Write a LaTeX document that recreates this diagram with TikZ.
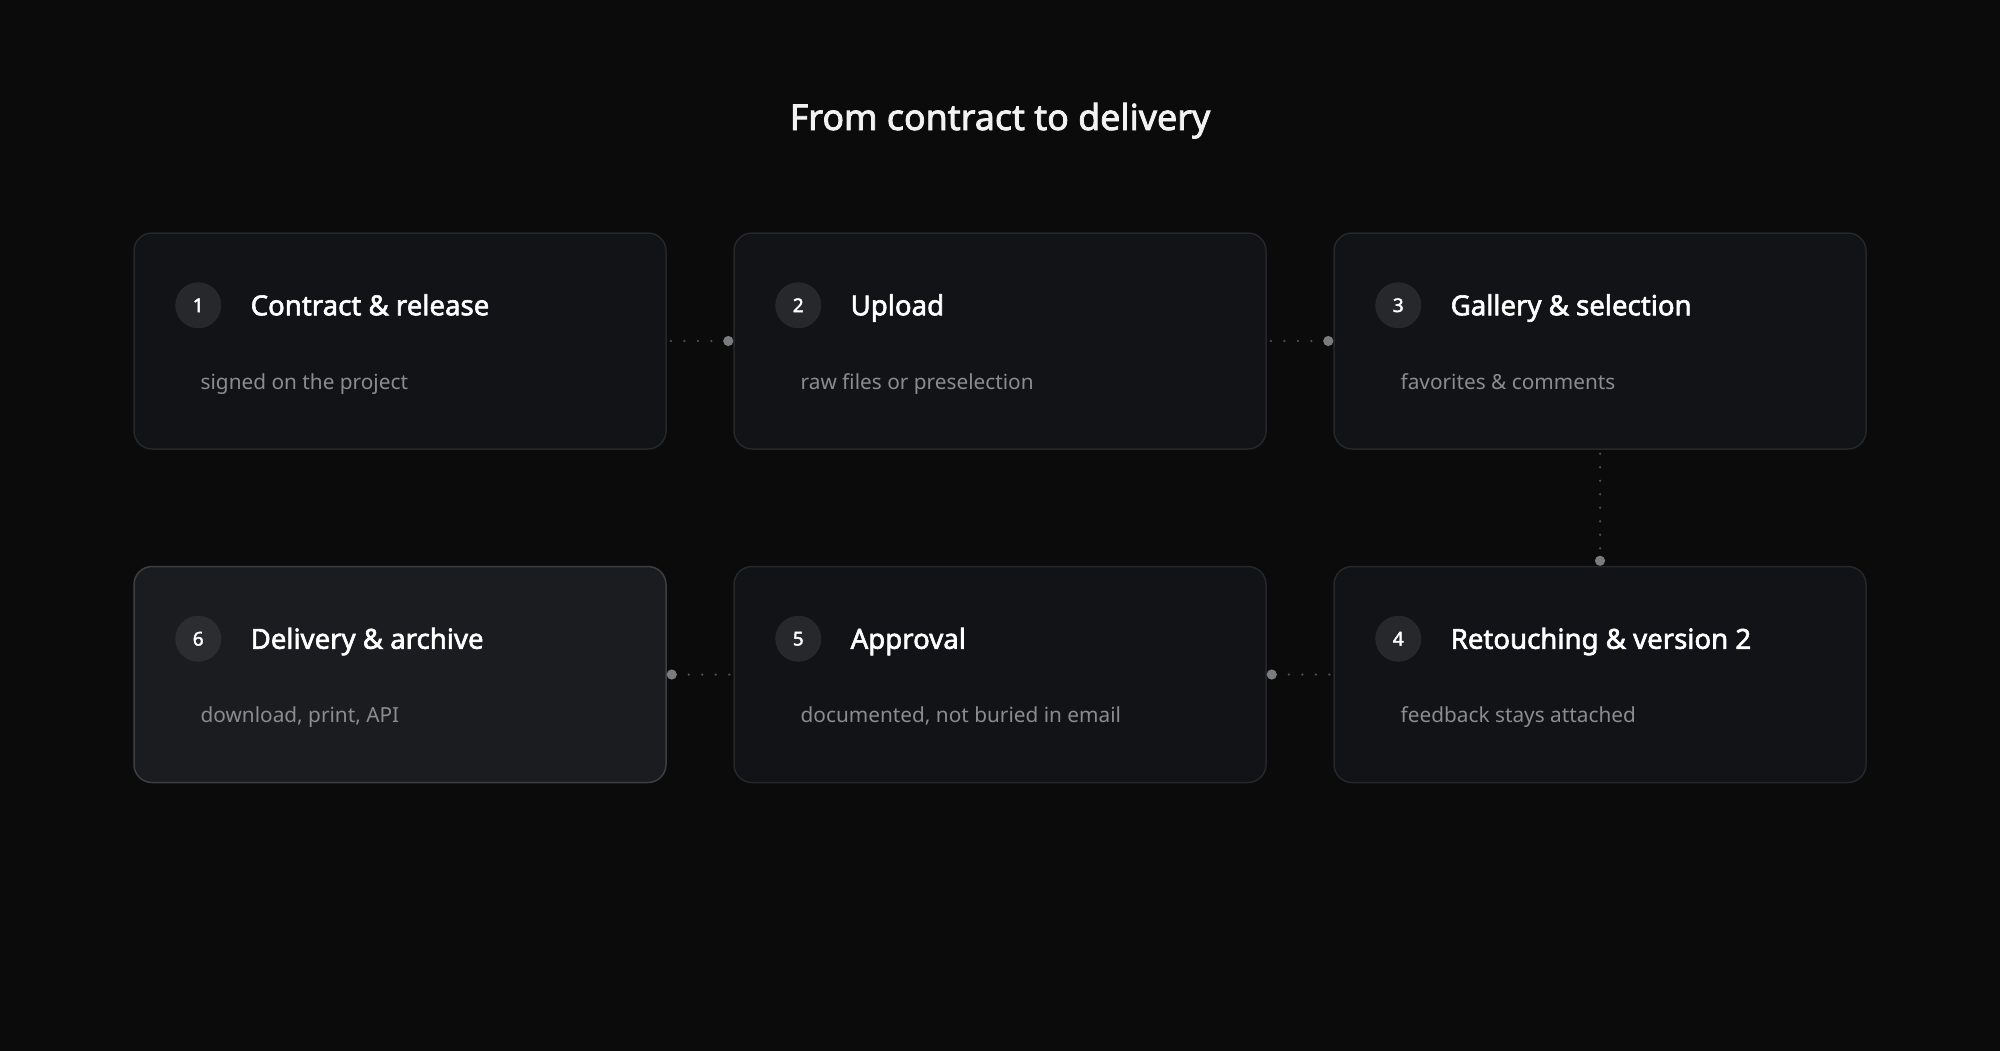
\documentclass[tikz,border=0pt]{standalone}
\usepackage{fontspec}
\setmainfont{Noto Sans}[AutoFakeBold=2.2]
\usetikzlibrary{arrows.meta,calc,positioning}
\definecolor{bgdark}{HTML}{0B0B0C}
\definecolor{cardfill}{HTML}{121317}
\definecolor{cardline}{HTML}{26272B}
\definecolor{hifill}{HTML}{1B1C20}
\definecolor{hiline}{HTML}{3D3E42}
\definecolor{badgefill}{HTML}{27282C}
\definecolor{hibadge}{HTML}{2C2D31}
\definecolor{capgray}{HTML}{8B8C91}
\definecolor{dotgray}{HTML}{505155}
\definecolor{dotend}{HTML}{7A7B7F}
\tikzset{
        card/.style = {draw=cardline, fill=cardfill, rounded corners=9pt,
            line width=0.75pt, inner sep=0pt,
            minimum width=266pt,
            minimum height=108pt},
        lastcard/.style = {card, draw=hiline, fill=hifill},
        badge/.style = {circle, fill=badgefill, minimum size=23pt, inner sep=0pt,
            text=white, font=\fontsize{9.5}{11}\selectfont\bfseries},
        heading/.style = {anchor=base west, inner sep=0pt, text=white,
            font=\fontsize{13.8}{16}\selectfont\bfseries},
        caption/.style = {anchor=base west, inner sep=0pt, text=capgray,
            font=\fontsize{10.4}{13}\selectfont},
        link/.style = {draw=dotgray, line width=1.25pt, line cap=round,
            dash pattern=on 0pt off 6.75pt, dash phase=4.75pt,
            -{Circle[length=5pt, color=dotend]}},
    }
\begin{document}
\begin{tikzpicture}[x=0.5pt, y=-0.5pt]
                        \useasboundingbox (0,0) rectangle (2000,1050);
                        \fill[bgdark] (-10,-10) rectangle (2010,1060);

                        \node[anchor=base, inner sep=0pt, text=white!95!black,
                              font=\fontsize{17.9}{21}\selectfont\bfseries] (title) at (1000,130) {From contract to delivery};

                        \node[card] (b1) at (400,341) {};
                        \node[card, right=33.25pt of b1] (b2) {};
                        \node[card, right=33.25pt of b2] (b3) {};
                        \node[card, below=58pt of b3] (b4) {};
                        \node[card, left=33.25pt of b4] (b5) {};
                        \node[lastcard, left=33.25pt of b5] (b6) {};

                        \node[badge] (n1) at ($ (b1.north west) + (65,73) $) {1};
                        \node[heading] (h1) at ($ (b1.north west) + (117,83) $) {Contract \& release};
                        \node[caption] (c1) at ($ (b1.north west) + (67,157) $) {signed on the project};

                        \node[badge] (n2) at ($ (b2.north west) + (65,73) $) {2};
                        \node[heading] (h2) at ($ (b2.north west) + (117,83) $) {Upload};
                        \node[caption] (c2) at ($ (b2.north west) + (67,157) $) {raw files or preselection};

                        \node[badge] (n3) at ($ (b3.north west) + (65,73) $) {3};
                        \node[heading] (h3) at ($ (b3.north west) + (117,83) $) {Gallery \& selection};
                        \node[caption] (c3) at ($ (b3.north west) + (67,157) $) {favorites \& comments};

                        \node[badge] (n4) at ($ (b4.north west) + (65,73) $) {4};
                        \node[heading] (h4) at ($ (b4.north west) + (117,83) $) {Retouching \& version 2};
                        \node[caption] (c4) at ($ (b4.north west) + (67,157) $) {feedback stays attached};

                        \node[badge] (n5) at ($ (b5.north west) + (65,73) $) {5};
                        \node[heading] (h5) at ($ (b5.north west) + (117,83) $) {Approval};
                        \node[caption] (c5) at ($ (b5.north west) + (67,157) $) {documented, not buried in email};

                        \node[badge, fill=hibadge] (n6) at ($ (b6.north west) + (65,73) $) {6};
                        \node[heading] (h6) at ($ (b6.north west) + (117,83) $) {Delivery \& archive};
                        \node[caption] (c6) at ($ (b6.north west) + (67,157) $) {download, print, API};

                        %\draw[link] (b6.north) -- (b1.south);
                        \draw[link] (b1.east) -- (b2.west);
                        \draw[link] (b2.east) -- (b3.west);
                        \draw[link] (b3.south) -- (b4.north);
                        \draw[link] (b4.west) -- (b5.east);
                        \draw[link] (b5.west) -- (b6.east);
\end{tikzpicture}
\end{document}
